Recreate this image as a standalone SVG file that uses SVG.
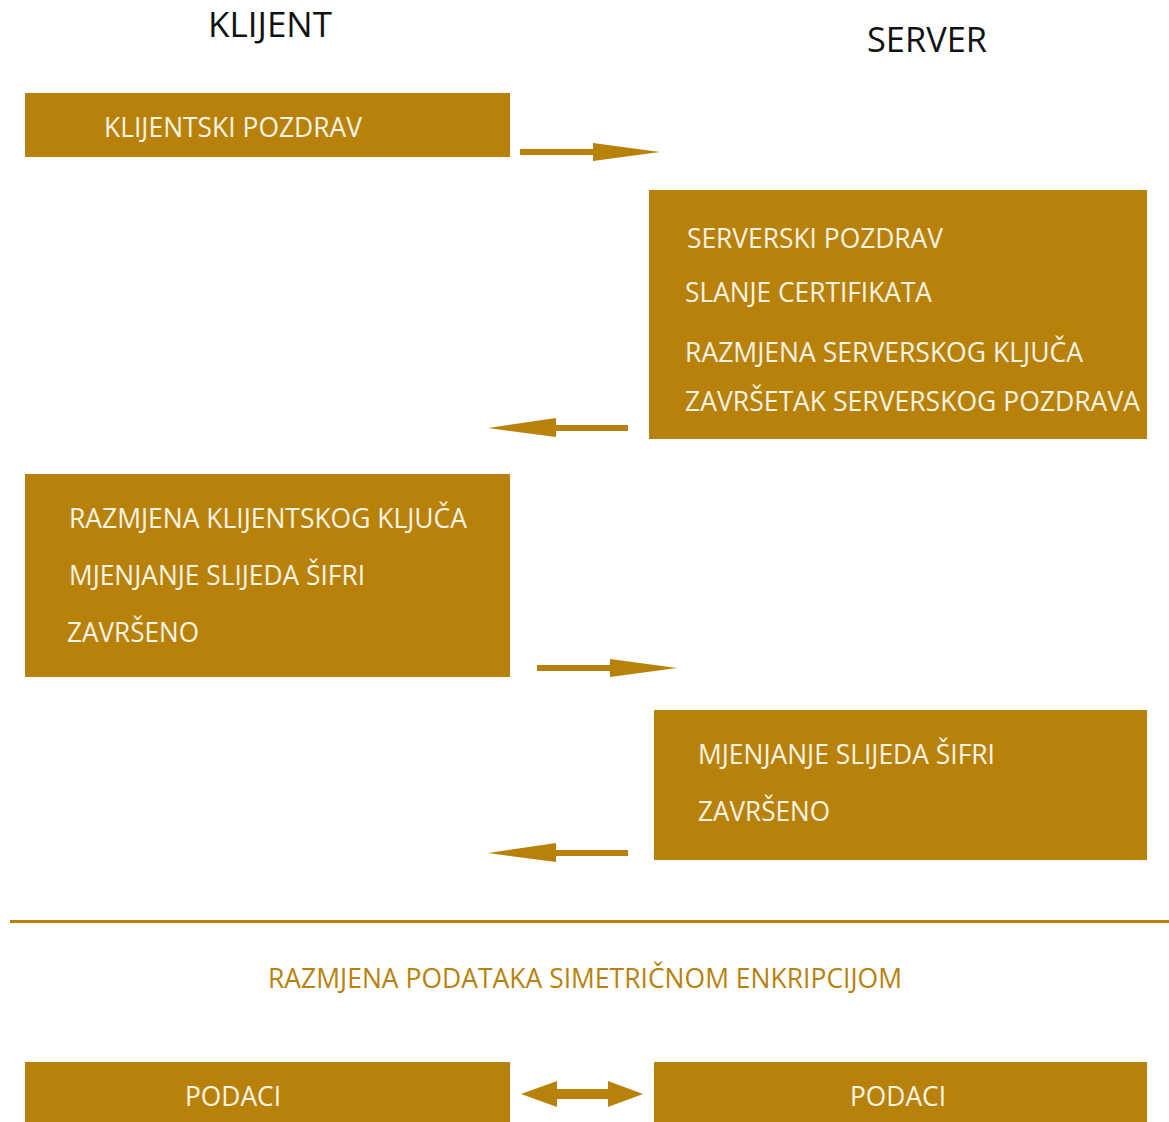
<svg xmlns="http://www.w3.org/2000/svg" width="1169" height="1122" viewBox="0 0 1169 1122">
<style>
.box{fill:#B8820A;}
.arr{fill:#B8820A;}
.t{font-family:"Open Sans","Noto Sans",sans-serif;font-size:28px;font-weight:500;fill:#FBF3E4;}
.h{font-family:"Open Sans","Noto Sans",sans-serif;font-size:34px;font-weight:500;fill:#111;}
.g{font-family:"Open Sans","Noto Sans",sans-serif;font-size:27px;fill:#B8820A;}
</style>
<rect width="1169" height="1122" fill="#fff"/>
<g id="title-klijent"><text class="h" x="208" y="37" textLength="124" lengthAdjust="spacingAndGlyphs">KLIJENT</text></g>
<g id="title-server"><text class="h" x="867" y="52" textLength="120" lengthAdjust="spacingAndGlyphs">SERVER</text></g>

<g id="n1">
<rect class="box" x="25" y="93" width="485" height="64"/>
<text class="t" x="104" y="137" textLength="258" lengthAdjust="spacingAndGlyphs">KLIJENTSKI POZDRAV</text>
</g>
<g id="n2">
<rect class="box" x="649" y="190" width="498" height="249"/>
<text class="t" x="687" y="248" textLength="256" lengthAdjust="spacingAndGlyphs">SERVERSKI POZDRAV</text>
<text class="t" x="685" y="302" textLength="247" lengthAdjust="spacingAndGlyphs">SLANJE CERTIFIKATA</text>
<text class="t" x="685" y="362" textLength="398" lengthAdjust="spacingAndGlyphs">RAZMJENA SERVERSKOG KLJUČA</text>
<text class="t" x="685" y="411" textLength="455" lengthAdjust="spacingAndGlyphs">ZAVRŠETAK SERVERSKOG POZDRAVA</text>
</g>
<g id="n3">
<rect class="box" x="25" y="474" width="485" height="203"/>
<text class="t" x="69" y="528" textLength="398" lengthAdjust="spacingAndGlyphs">RAZMJENA KLIJENTSKOG KLJUČA</text>
<text class="t" x="69" y="585" textLength="296" lengthAdjust="spacingAndGlyphs">MJENJANJE SLIJEDA ŠIFRI</text>
<text class="t" x="67" y="642" textLength="132" lengthAdjust="spacingAndGlyphs">ZAVRŠENO</text>
</g>
<g id="n4">
<rect class="box" x="654" y="710" width="493" height="150"/>
<text class="t" x="698" y="764" textLength="297" lengthAdjust="spacingAndGlyphs">MJENJANJE SLIJEDA ŠIFRI</text>
<text class="t" x="698" y="821" textLength="132" lengthAdjust="spacingAndGlyphs">ZAVRŠENO</text>
</g>
<g id="divider">
<rect x="10" y="920" width="1159" height="3" fill="#B8820A"/>
<text class="g" x="268" y="988" textLength="634" lengthAdjust="spacingAndGlyphs">RAZMJENA PODATAKA SIMETRIČNOM ENKRIPCIJOM</text>
</g>
<g id="n5">
<rect class="box" x="25" y="1062" width="485" height="60"/>
<text class="t" x="185" y="1106" textLength="96" lengthAdjust="spacingAndGlyphs">PODACI</text>
</g>
<g id="n6">
<rect class="box" x="654" y="1062" width="493" height="60"/>
<text class="t" x="850" y="1106" textLength="96" lengthAdjust="spacingAndGlyphs">PODACI</text>
</g>

<g id="connectors">
<polygon class="arr" points="520,149 593,149 593,143 660,152 593,161 593,155 520,155"/>
<polygon class="arr" points="628,425 556,425 556,418 488,428 556,437 556,431 628,431"/>
<polygon class="arr" points="537,665 610,665 610,659 677,668 610,677 610,671 537,671"/>
<polygon class="arr" points="628,850 556,850 556,843 488,853 556,862 556,856 628,856"/>
<polygon class="arr" points="521,1094 557,1081 557,1089 608,1089 608,1081 643,1094 608,1107 608,1099 557,1099 557,1107"/>
</g>
</svg>
